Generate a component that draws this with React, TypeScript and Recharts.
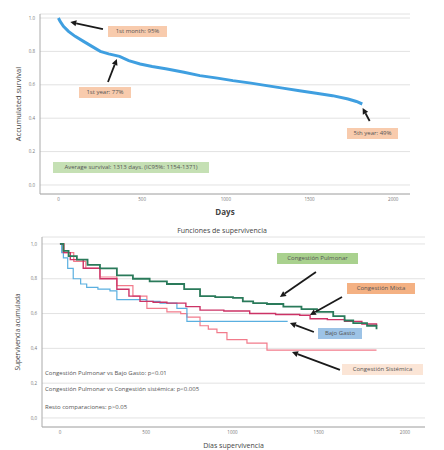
import React from "react";
import { LineChart, Line, XAxis, YAxis, CartesianGrid, ReferenceLine } from "recharts";

// overall survival (top chart)
const overallDays = [0, 10, 30, 60, 100, 150, 200, 250, 300, 365, 420, 488, 560, 649, 750, 845, 950, 1042, 1150, 1244, 1340, 1440, 1540, 1637, 1730, 1780, 1815];
const overallSurv = [1.0, 0.98, 0.95, 0.92, 0.89, 0.86, 0.83, 0.8, 0.785, 0.77, 0.745, 0.725, 0.71, 0.695, 0.675, 0.655, 0.64, 0.625, 0.61, 0.595, 0.58, 0.565, 0.55, 0.535, 0.515, 0.5, 0.485];

// survival by group (bottom chart)
const pulmonarDays = [0, 20, 50, 98, 160, 232, 330, 423, 520, 620, 720, 812, 900, 1003, 1060, 1120, 1200, 1295, 1400, 1490, 1584, 1650, 1700, 1780, 1835];
const pulmonarSurv = [1.0, 0.96, 0.93, 0.91, 0.88, 0.86, 0.82, 0.8, 0.785, 0.77, 0.74, 0.7, 0.695, 0.69, 0.67, 0.66, 0.655, 0.64, 0.625, 0.61, 0.585, 0.56, 0.545, 0.53, 0.51];
const mixtaDays = [0, 20, 60, 135, 232, 330, 400, 464, 540, 620, 730, 812, 950, 1100, 1250, 1390, 1450, 1550, 1650, 1750, 1835];
const mixtaSurv = [1.0, 0.95, 0.91, 0.86, 0.8, 0.74, 0.7, 0.67, 0.665, 0.66, 0.64, 0.62, 0.615, 0.6, 0.595, 0.59, 0.57, 0.565, 0.555, 0.54, 0.53];
const bajoDays = [0, 10, 20, 45, 77, 120, 155, 220, 290, 330, 420, 500, 580, 678, 736, 1320];
const bajoSurv = [1.0, 0.95, 0.92, 0.86, 0.8, 0.77, 0.75, 0.74, 0.73, 0.68, 0.68, 0.67, 0.66, 0.63, 0.555, 0.555];
const sistemicaDays = [0, 25, 80, 150, 232, 330, 423, 504, 620, 700, 736, 812, 860, 910, 968, 1084, 1200, 1835];
const sistemicaSurv = [1.0, 0.95, 0.9, 0.86, 0.81, 0.76, 0.7, 0.63, 0.61, 0.6, 0.58, 0.53, 0.51, 0.49, 0.45, 0.43, 0.39, 0.39];

const xTicks = [0, 500, 1000, 1500, 2000];
const yTicks = [0, 0.2, 0.4, 0.6, 0.8, 1.0];

const pairs = (days: number[], surv: number[]) => days.map((d, i) => ({ d, s: surv[i] }));

function Arrow(props: any) {
  const { x1, y1, x2, y2 } = props;
  const ang = Math.atan2(y2 - y1, x2 - x1);
  const len = 6;
  const w = 3;
  const bx = x2 - len * Math.cos(ang);
  const by = y2 - len * Math.sin(ang);
  const px = -Math.sin(ang) * w;
  const py = Math.cos(ang) * w;
  return (
    <g>
      <line x1={x1} y1={y1} x2={bx} y2={by} stroke="#1a1a1a" strokeWidth={1.8} />
      <polygon points={`${x2},${y2} ${bx + px},${by + py} ${bx - px},${by - py}`} fill="#1a1a1a" />
    </g>
  );
}

function Tag({ left, top, width, bg, text }: { left: number; top: number; width: number; bg: string; text: string }) {
  return (
    <div
      style={{
        position: "absolute",
        left,
        top,
        width,
        height: 11,
        background: bg,
        color: "#555",
        fontSize: 6,
        lineHeight: "11px",
        textAlign: "center",
        whiteSpace: "nowrap",
        overflow: "hidden",
      }}
    >
      {text}
    </div>
  );
}

const tickStyle = { fontSize: 4.5, fill: "#777" };
const font = "'Open Sans', 'Liberation Sans', sans-serif";

export default function App() {
  return (
    <div style={{ position: "absolute", left: 0, top: 0, width: 444, height: 450, background: "#fff", fontFamily: font }}>
      <LineChart width={444} height={225} margin={{ top: 14, right: 34, bottom: 0, left: 0 }} style={{ fontFamily: font }}>
        <CartesianGrid vertical={false} stroke="#e2e2e2" />
        <XAxis
          type="number"
          dataKey="d"
          domain={[-110, 2100]}
          ticks={xTicks}
          height={31}
          tickSize={2}
          tickLine={false}
          axisLine={{ stroke: "#aaa" }}
          tick={tickStyle}
          label={{ value: "Days", position: "insideBottom", offset: 10, style: { fontSize: 8, fontWeight: 700, fill: "#444" } }}
        />
        <YAxis
          type="number"
          domain={[-0.054, 1.024]}
          ticks={yTicks}
          width={40}
          tickSize={3}
          tickLine={false}
          axisLine={{ stroke: "#aaa" }}
          tick={tickStyle}
          tickFormatter={(v: number) => v.toFixed(1)}
          label={{ value: "Accumulated survival", angle: -90, position: "insideLeft", offset: 18, style: { fontSize: 7.5, fill: "#444", textAnchor: "middle" } }}
        />
        <Line data={pairs(overallDays, overallSurv)} dataKey="s" type="linear" stroke="#3f9fe0" strokeWidth={3} dot={false} isAnimationActive={false} />
        <ReferenceLine segment={[{ x: 266, y: 0.934 }, { x: 71, y: 0.976 }]} shape={Arrow} ifOverflow="visible" />
        <ReferenceLine segment={[{ x: 296, y: 0.617 }, { x: 349, y: 0.754 }]} shape={Arrow} ifOverflow="visible" />
        <ReferenceLine segment={[{ x: 1859, y: 0.383 }, { x: 1817, y: 0.461 }]} shape={Arrow} ifOverflow="visible" />
      </LineChart>

      <div style={{ position: "absolute", left: 0, top: 225 }}>
        <LineChart width={444} height={225} margin={{ top: 12, right: 19, bottom: 0, left: 0 }} style={{ fontFamily: font }}>
          <CartesianGrid vertical={false} stroke="#e2e2e2" />
          <XAxis
            type="number"
            dataKey="d"
            domain={[-104, 2116]}
            ticks={xTicks}
            height={23}
            tickSize={2}
            tickLine={false}
            axisLine={{ stroke: "#aaa" }}
            tick={tickStyle}
            label={{ value: "Días supervivencia", position: "insideBottom", offset: 2, style: { fontSize: 7, fill: "#444" } }}
          />
          <YAxis
            type="number"
            domain={[-0.052, 1.04]}
            ticks={yTicks}
            width={42}
            tickSize={3}
            tickLine={false}
            axisLine={{ stroke: "#aaa" }}
            tick={tickStyle}
            tickFormatter={(v: number) => v.toFixed(1).replace(".", ",")}
            label={{ value: "Supervivencia acumulada", angle: -90, position: "insideLeft", offset: 18, style: { fontSize: 6.5, fill: "#444", textAnchor: "middle" } }}
          />
          <Line data={pairs(sistemicaDays, sistemicaSurv)} dataKey="s" type="stepAfter" stroke="#f27b8b" strokeWidth={1.2} dot={false} isAnimationActive={false} />
          <Line data={pairs(bajoDays, bajoSurv)} dataKey="s" type="stepAfter" stroke="#5aafe0" strokeWidth={1.2} dot={false} isAnimationActive={false} />
          <Line data={pairs(mixtaDays, mixtaSurv)} dataKey="s" type="stepAfter" stroke="#cc3366" strokeWidth={1.4} dot={false} isAnimationActive={false} />
          <Line data={pairs(pulmonarDays, pulmonarSurv)} dataKey="s" type="stepAfter" stroke="#2a7a5a" strokeWidth={1.8} dot={false} isAnimationActive={false} />
          <ReferenceLine segment={[{ x: 1484, y: 0.839 }, { x: 1275, y: 0.695 }]} shape={Arrow} ifOverflow="visible" />
          <ReferenceLine segment={[{ x: 1635, y: 0.695 }, { x: 1449, y: 0.592 }]} shape={Arrow} ifOverflow="visible" />
          <ReferenceLine segment={[{ x: 1472, y: 0.494 }, { x: 1333, y: 0.546 }]} shape={Arrow} ifOverflow="visible" />
          <ReferenceLine segment={[{ x: 1623, y: 0.276 }, { x: 1345, y: 0.379 }]} shape={Arrow} ifOverflow="visible" />
        </LineChart>
      </div>

      <div style={{ position: "absolute", left: 0, width: 444, top: 226, textAlign: "center", fontSize: 7, color: "#444" }}>
        Funciones de supervivencia
      </div>

      <Tag left={108} top={26} width={59} bg="#f8cbad" text="1st month: 95%" />
      <Tag left={79} top={87} width={52} bg="#f8cbad" text="1st year: 77%" />
      <Tag left={347} top={128} width={51} bg="#f8cbad" text="5th year: 49%" />
      <Tag left={53} top={162} width={156} bg="#c5e0b4" text="Average survival: 1313 days. (IC95%: 1154-1371)" />

      <Tag left={277} top={253} width={81} bg="#a9d18e" text="Congestión Pulmonar" />
      <Tag left={347} top={283} width={68} bg="#f4b183" text="Congestión Mixta" />
      <Tag left={318} top={328} width={44} bg="#9dc3e6" text="Bajo Gasto" />
      <Tag left={342} top={364} width={81} bg="#fbe5d6" text="Congestión Sistémica" />

      <div style={{ position: "absolute", left: 45, top: 369, fontSize: 6, color: "#555", lineHeight: "8px" }}>
        Congestión Pulmonar vs Bajo Gasto: p&lt;0.01
      </div>
      <div style={{ position: "absolute", left: 45, top: 385, fontSize: 6, color: "#555", lineHeight: "8px" }}>
        Congestión Pulmonar vs Congestión sistémica: p&lt;0.005
      </div>
      <div style={{ position: "absolute", left: 45, top: 403, fontSize: 6, color: "#555", lineHeight: "8px" }}>
        Resto comparaciones: p&gt;0.05
      </div>
    </div>
  );
}
